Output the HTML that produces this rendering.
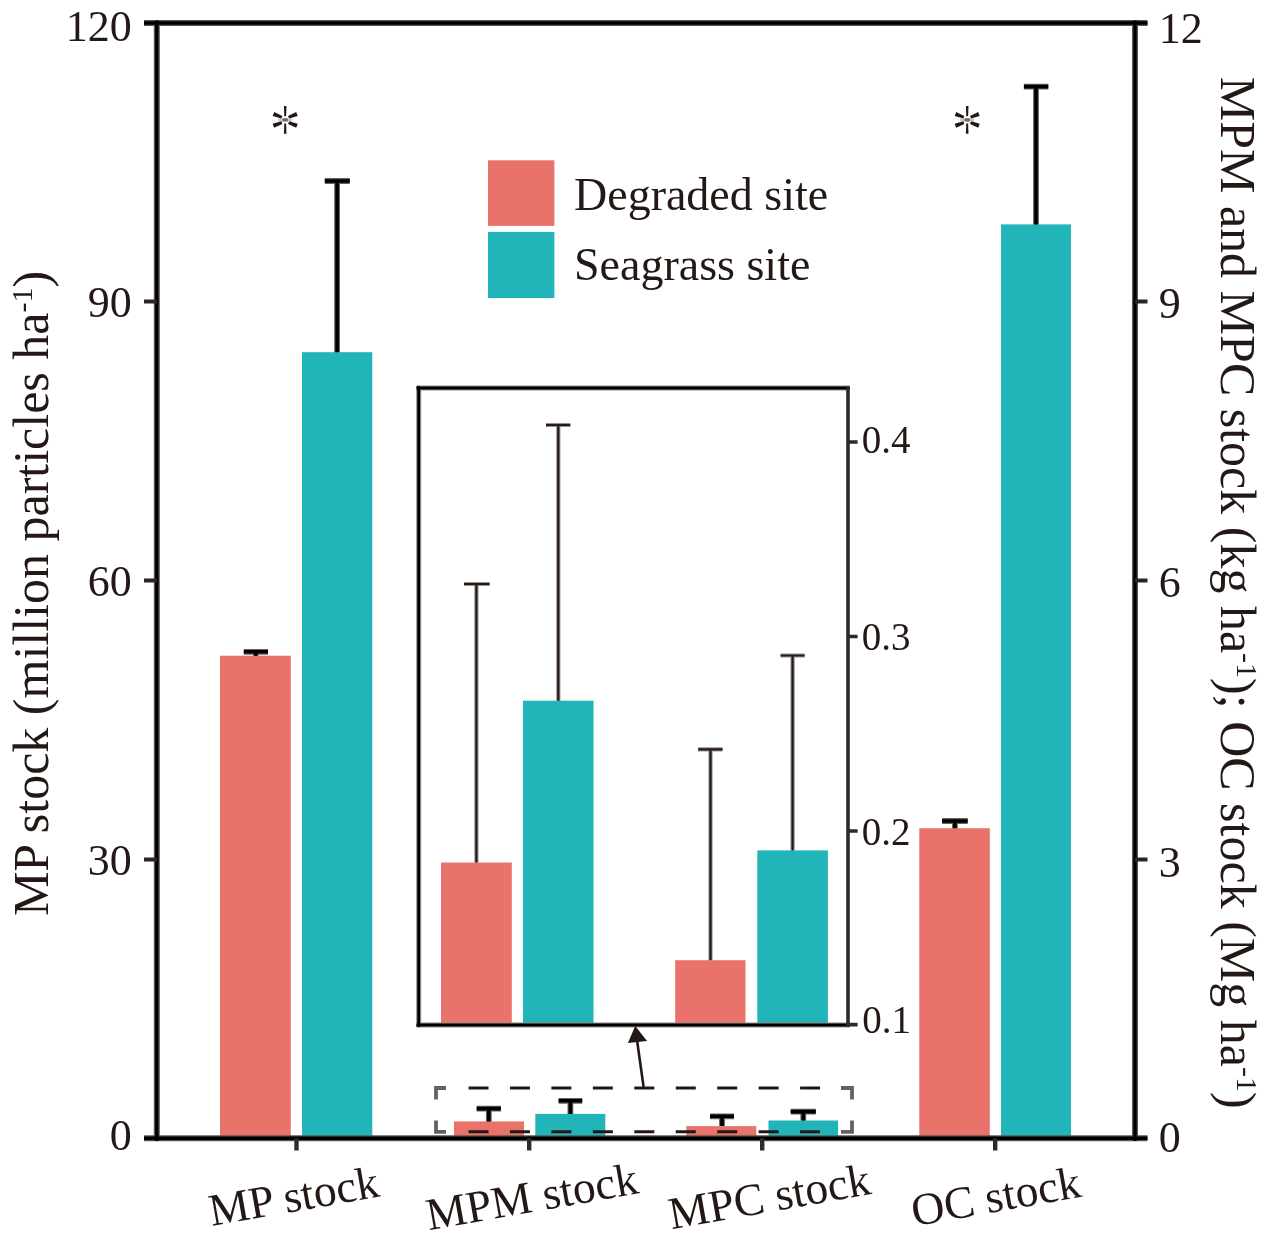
<!DOCTYPE html>
<html><head><meta charset="utf-8">
<style>
html,body{margin:0;padding:0;background:#fff;width:1270px;height:1243px;overflow:hidden}
svg{display:block;will-change:transform}
text{font-family:"Liberation Serif",serif;fill:#231815}
</style></head>
<body>
<svg width="1270" height="1243" viewBox="0 0 1270 1243">
<!-- bars main -->
<g id="bars">
<rect x="220" y="655.7" width="70.8" height="483" fill="#e9736a"/>
<rect x="302" y="352.2" width="70.3" height="786.5" fill="#21b4b8"/>
<rect x="454" y="1121.4" width="70" height="17.3" fill="#e9736a"/>
<rect x="535.3" y="1113.9" width="70" height="24.8" fill="#21b4b8"/>
<rect x="686.3" y="1126.1" width="70" height="12.6" fill="#e9736a"/>
<rect x="768.5" y="1120.5" width="69.6" height="18.2" fill="#21b4b8"/>
<rect x="919.3" y="828.2" width="70.5" height="310.5" fill="#e9736a"/>
<rect x="1001" y="224.4" width="70" height="914.3" fill="#21b4b8"/>
</g>
<!-- error bars main -->
<path d="M255.8 655.7V651.8M243.8 651.8H268M337.1 352.2V181M324.8 181H349.8M488.8 1121.4V1108.6M476.7 1108.6H500.9M570.4 1113.9V1100.8M558.6 1100.8H582.2M722 1126.1V1116.3M710 1116.3H734M803.3 1120.5V1111.6M790.7 1111.6H815.8M954.9 828.2V821M942.1 821H967.7M1036 224.4V86.6M1023.9 86.6H1048.3" stroke="#6a605b" stroke-width="5.8" fill="none"/>
<path d="M255.8 655.7V651.8M243.8 651.8H268M337.1 352.2V181M324.8 181H349.8M488.8 1121.4V1108.6M476.7 1108.6H500.9M570.4 1113.9V1100.8M558.6 1100.8H582.2M722 1126.1V1116.3M710 1116.3H734M803.3 1120.5V1111.6M790.7 1111.6H815.8M954.9 828.2V821M942.1 821H967.7M1036 224.4V86.6M1023.9 86.6H1048.3" stroke="#000" stroke-width="3.6" fill="none"/>
<!-- main axes frame -->
<path d="M156.8 20.5V1141M1135 20.5V1141M144 23H1147.5M144 1138.3H1147.5" stroke="#5f5550" stroke-width="6" fill="none"/>
<path d="M156.8 20.5V1141M1135 20.5V1141M144 23H1147.5M144 1138.3H1147.5" stroke="#000" stroke-width="3.4" fill="none"/>
<!-- y ticks -->
<g stroke="#2a2624" stroke-width="4">
<path d="M144 301.6H157M144 580.6H157M144 859.5H157"/>
<path d="M1135 301.6H1147.5M1135 580.6H1147.5M1135 859.5H1147.5"/>
</g>
<!-- x ticks -->
<g stroke="#2f2b29" stroke-width="4.4">
<path d="M296.5 1138.3V1150.5M529.2 1138.3V1150.5M762.2 1138.3V1150.5M995.2 1138.3V1150.5"/>
</g>
<!-- left tick labels -->
<g font-size="44" text-anchor="end">
<text x="131.8" y="41.3">120</text>
<text x="131.8" y="316.6">90</text>
<text x="131.8" y="595.5">60</text>
<text x="131.8" y="874.6">30</text>
<text x="131.8" y="1149.6">0</text>
</g>
<!-- right tick labels -->
<g font-size="44">
<text x="1158.7" y="43">12</text>
<text x="1158.7" y="318.4">9</text>
<text x="1158.7" y="597.4">6</text>
<text x="1158.7" y="876.5">3</text>
<text x="1158.7" y="1151.6">0</text>
</g>
<!-- axis titles -->
<text font-size="50" transform="translate(48 916.1) rotate(-90)">MP stock (million particles ha<tspan font-size="30" dy="-16">-1</tspan><tspan dy="16">)</tspan></text>
<text font-size="50" transform="translate(1220.8 76.7) rotate(90)">MPM and MPC stock (kg ha<tspan font-size="30" dy="-16">-1</tspan><tspan dy="16">); OC stock (Mg ha</tspan><tspan font-size="30" dy="-16">-1</tspan><tspan dy="16">)</tspan></text>
<!-- category labels -->
<g font-size="45.6" text-anchor="middle">
<text transform="translate(296.3 1211.2) rotate(-10)">MP stock</text>
<text transform="translate(534.5 1211.6) rotate(-10)">MPM stock</text>
<text transform="translate(772 1211.5) rotate(-10)">MPC stock</text>
<text transform="translate(998.4 1211.3) rotate(-10)">OC stock</text>
</g>
<!-- legend -->
<rect x="488" y="160.3" width="66.4" height="65.6" fill="#e9736a"/>
<rect x="488" y="231.9" width="66.4" height="66.1" fill="#21b4b8"/>
<g font-size="46">
<text x="574" y="210.1">Degraded site</text>
<text x="574" y="280">Seagrass site</text>
</g>
<!-- asterisks -->
<defs><g id="ast"><rect x="-7" y="-1.4" width="14" height="2.8" fill="#c9c6c5"/><rect x="-2.6" y="-1.6" width="5.2" height="3.2" fill="#6e6866"/><path d="M-0.9 -3.6L-1.3 -13.8H1.3L0.9 -3.6Z"/><path d="M-0.9 -3.6L-1.3 -13.8H1.3L0.9 -3.6Z" transform="rotate(180)"/><path d="M-3.6 -1.4L-12.6 -2.1L-12.6 2.1L-3.6 1.4Z" transform="translate(0 -1.4) rotate(21)"/><path d="M-3.6 -1.4L-12.6 -2.1L-12.6 2.1L-3.6 1.4Z" transform="translate(0 1.4) rotate(-21)"/><path d="M3.6 -1.4L12.6 -2.1L12.6 2.1L3.6 1.4Z" transform="translate(0 -1.4) rotate(-21)"/><path d="M3.6 -1.4L12.6 -2.1L12.6 2.1L3.6 1.4Z" transform="translate(0 1.4) rotate(21)"/></g></defs>
<g fill="#231815">
<use href="#ast" transform="translate(285.2 119.9)"/>
<use href="#ast" transform="translate(967.2 119.9)"/>
</g>
<!-- inset -->
<g>
<rect x="441" y="862.5" width="70.8" height="162" fill="#e9736a"/>
<rect x="523" y="700.7" width="70.5" height="324" fill="#21b4b8"/>
<rect x="675.2" y="960.2" width="70.3" height="64" fill="#e9736a"/>
<rect x="757.3" y="850.4" width="70.6" height="174" fill="#21b4b8"/>
</g>
<path d="M476.4 862.5V584M464.1 584H489.6M558.3 700.7V425M546 425H570.3M710.5 960.2V749.4M698.2 749.4H722.5M792.6 850.4V655.5M780.6 655.5H804.6" stroke="#9a908b" stroke-width="4.2" fill="none"/>
<path d="M476.4 862.5V584M464.1 584H489.6M558.3 700.7V425M546 425H570.3M710.5 960.2V749.4M698.2 749.4H722.5M792.6 850.4V655.5M780.6 655.5H804.6" stroke="#231d1a" stroke-width="2.2" fill="none"/>
<g fill="none">
<path d="M418.7 386V1027M416.5 388H849.6M416.5 1025H849.6" stroke="#958b86" stroke-width="5" fill="none"/>
<path d="M418.7 386V1027M416.5 388H849.6M416.5 1025H849.6" stroke="#000" stroke-width="2.8" fill="none"/>
<path d="M848 386.5V1026.5" stroke="#2e2926" stroke-width="3.6"/>
<path d="M848 442H857.6M848 636.5H857.6M848 831H857.6M848 1024.6H857.6" stroke="#2e2926" stroke-width="3.6"/>
</g>
<g font-size="39">
<text x="861.8" y="453.4">0.4</text>
<text x="861.8" y="649.6">0.3</text>
<text x="861.8" y="845.2">0.2</text>
<text x="862.2" y="1032.6">0.1</text>
</g>
<!-- dashed rect -->
<g fill="none">
<path d="M468.5 1088H821M468.5 1131.8H821" stroke="#231815" stroke-width="3" stroke-dasharray="20 21.45" />
<path d="M436 1099.5V1088H446M436 1120.5V1131.8H446M841 1088H852V1099.5M841 1131.8H852V1120.5" stroke="#646262" stroke-width="3.8" stroke-linecap="butt"/>

</g>
<!-- arrow -->
<g>
<path d="M643.6 1087L637 1040" stroke="#231815" stroke-width="2.6" fill="none"/>
<path d="M635.2 1026L627.9 1043L647.1 1041Z" fill="#231815"/>
</g>
</svg>
</body></html>
